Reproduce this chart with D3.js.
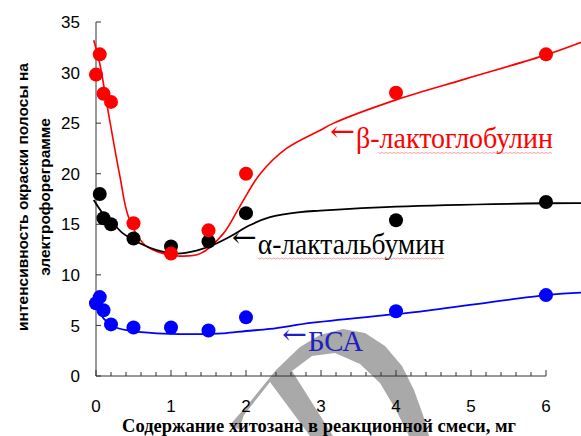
<!DOCTYPE html>
<html>
<head>
<meta charset="utf-8">
<script src="https://cdn.jsdelivr.net/npm/d3@7"></script>
<style>
  body { margin: 0; background: #fff; }
  svg { display: block; }
</style>
</head>
<body>
<div id="chart-area"></div>
<script>
// measured points
const doses = [0, 0.05, 0.1, 0.2, 0.5, 1, 1.5, 2, 4, 6];
const betaLg = [29.8, 31.8, 27.9, 27.1, 15.1, 12.1, 14.4, 20.0, 28.0, 31.8];
const bsa = [7.2, 7.8, 6.5, 5.1, 4.8, 4.8, 4.5, 5.8, 6.4, 8.0];
const alphaDoses = [0.05, 0.1, 0.2, 0.5, 1, 1.5, 2, 4, 6];
const alphaLa = [18.0, 15.6, 15.0, 13.6, 12.8, 13.3, 16.1, 15.4, 17.2];

// trend lines
const betaFitX = [-0.03, 0.05, 0.14, 0.23, 0.32, 0.43, 0.63, 0.81, 1.08, 1.39, 1.70, 1.92, 2.19, 2.54, 2.99, 3.17, 4.0, 4.94, 6.0, 6.47];
const betaFitY = [33.2, 30.9, 27.1, 23.3, 19.7, 15.8, 13.1, 12.3, 11.87, 12.1, 14.1, 16.8, 20.0, 22.5, 24.3, 25.0, 27.3, 29.4, 31.75, 33.0];
const alphaFitX = [-0.03, 0.12, 0.19, 0.36, 0.59, 0.81, 1.08, 1.34, 1.56, 1.79, 2.05, 2.32, 2.72, 2.99, 4.0, 6.0, 6.47];
const alphaFitY = [17.4, 15.8, 15.4, 14.1, 13.1, 12.45, 12.1, 12.4, 12.95, 13.8, 14.9, 15.7, 16.2, 16.35, 16.75, 17.08, 17.1];
const bsaFitX = [0.03, 0.1, 0.23, 0.45, 0.81, 1.25, 1.70, 2.0, 2.32, 2.89, 3.96, 4.32, 6.0, 6.47];
const bsaFitY = [6.6, 5.7, 4.9, 4.48, 4.22, 4.15, 4.22, 4.45, 4.65, 5.27, 6.1, 6.36, 8.0, 8.24];

const xTicks = [0, 1, 2, 3, 4, 5, 6];
const yTicks = [0, 5, 10, 15, 20, 25, 30, 35];

const margin = { left: 96, top: 22 },
  width = 450,
  height = 354;

const svg = d3
  .select("#chart-area")
  .append("svg")
  .attr("width", 581)
  .attr("height", 436);

svg.append("rect").attr("width", 581).attr("height", 436).attr("fill", "#fff");

// grey watermark behind the chart
svg.append("path")
  .attr("d", "M229,426 L250,402 L276,370 L300,347 L320,335 L343,329 L365,333 L385,346 L402,366 L414,390 L423,415 L429,436 L409,436 L396,410 L380,383 L360,364 L335,353 L312,356 L292,371 L333,436 L310,436 L270,382 L244,415 L239,429 Z")
  .attr("fill", "#a9a9a9");

const g = svg.append("g").attr("transform", "translate(" + margin.left + ", " + margin.top + ")");

const x = d3.scaleLinear().domain([0, 6]).range([0, width]);
const y = d3.scaleLinear().domain([0, 35]).range([height, 0]);

//x axis
const xAxis = g.append("g").attr("transform", "translate(0," + height + ")");
xAxis.append("line").attr("x1", 0).attr("x2", width).attr("stroke", "#333");
xAxis.selectAll(".minor")
  .data(d3.range(0, 30.5).map(i => i / 5))
  .enter()
  .append("line")
  .attr("x1", d => x(d))
  .attr("x2", d => x(d))
  .attr("y1", 0)
  .attr("y2", d => (Math.abs(d - Math.round(d)) < 1e-6 ? -6 : -4))
  .attr("stroke", "#333");
xAxis.selectAll("text")
  .data(xTicks)
  .enter()
  .append("text")
  .attr("x", d => x(d))
  .attr("y", 36)
  .attr("text-anchor", "middle")
  .style("font", "17px 'Liberation Sans', Arial, sans-serif")
  .text(d => d);

//y axis
const yAxis = g.append("g");
yAxis.append("line").attr("y1", 0).attr("y2", height).attr("stroke", "#333");
yAxis.selectAll(".tick")
  .data(yTicks)
  .enter()
  .append("line")
  .attr("x1", 0)
  .attr("x2", 5)
  .attr("y1", d => y(d))
  .attr("y2", d => y(d))
  .attr("stroke", "#333");
yAxis.selectAll("text")
  .data(yTicks)
  .enter()
  .append("text")
  .attr("x", -16)
  .attr("y", d => y(d))
  .attr("dy", "0.36em")
  .attr("text-anchor", "end")
  .style("font", "17px 'Liberation Sans', Arial, sans-serif")
  .text(d => d);

//trend lines
const line = d3.line()
  .x(d => x(d[0]))
  .y(d => y(d[1]))
  .curve(d3.curveCatmullRom.alpha(0.5));

const fits = [
  { xs: betaFitX, ys: betaFitY, color: "#ff0000", w: 1.6 },
  { xs: alphaFitX, ys: alphaFitY, color: "#000000", w: 1.8 },
  { xs: bsaFitX, ys: bsaFitY, color: "#0000ff", w: 1.8 }
];
fits.forEach(f => {
  g.append("path")
    .datum(f.xs.map((v, i) => [v, f.ys[i]]))
    .attr("d", line)
    .attr("fill", "none")
    .attr("stroke", f.color)
    .attr("stroke-width", f.w);
});

//markers
const series = [
  { xs: alphaDoses, ys: alphaLa, color: "#000000" },
  { xs: doses, ys: betaLg, color: "#ff0000" },
  { xs: doses, ys: bsa, color: "#0000ff" }
];
series.forEach(s => {
  g.append("g")
    .selectAll("circle")
    .data(s.xs.map((v, i) => [v, s.ys[i]]))
    .enter()
    .append("circle")
    .attr("cx", d => x(d[0]))
    .attr("cy", d => y(d[1]))
    .attr("r", 7)
    .attr("fill", s.color);
});

//curve labels: arrow + name, name squeezed to its width in the picture
const labels = [
  { text: "β-лактоглобулин", at: [3.12, 22.5], color: "#ff0000", len: 197, wavy: 22 },
  { text: "α-лактальбумин", at: [1.81, 12.06], color: "#000000", len: 187, wavy: 0 },
  { text: "БСА", at: [2.48, 2.47], color: "#2020c0", len: 55 }
];
labels.forEach(l => {
  const x0 = x(l.at[0]), y0 = y(l.at[1]);
  g.append("text")
    .attr("x", x0)
    .attr("y", y0 - 7)
    .attr("fill", l.color)
    .attr("textLength", 25)
    .attr("lengthAdjust", "spacingAndGlyphs")
    .style("font", "28px 'DejaVu Serif', serif")
    .text("←");
  g.append("text")
    .attr("x", x0 + 26)
    .attr("y", y0)
    .attr("fill", l.color)
    .attr("textLength", l.len)
    .attr("lengthAdjust", "spacingAndGlyphs")
    .style("font", "29px 'Liberation Serif', 'Times New Roman', serif")
    .text(l.text);
  if (l.wavy !== undefined) {
    // spell-check squiggle under the word
    const base = y0 + margin.top + 4;
    const start = x0 + 26 + l.wavy + margin.left;
    const pts = d3.range(start, x0 + 26 + l.len + margin.left, 2).map((px, i) => [px, base + (i % 2 ? 1 : 0)]);
    svg.append("path")
      .attr("d", d3.line()(pts))
      .attr("fill", "none")
      .attr("stroke", "#f08a8a")
      .attr("stroke-width", 0.8);
  }
});

//axis titles
svg.append("text")
  .attr("x", 319)
  .attr("y", 432)
  .attr("text-anchor", "middle")
  .style("font", "bold 18.5px 'Liberation Serif', 'Times New Roman', serif")
  .text("Содержание хитозана в реакционной смеси, мг");

const yTitle = svg.append("text")
  .attr("transform", "translate(0,197) rotate(-90)")
  .attr("text-anchor", "middle")
  .style("font", "bold 15.5px 'Liberation Sans', Arial, sans-serif");
yTitle.append("tspan").attr("x", 0).attr("y", 28).text("интенсивность окраски полосы на");
yTitle.append("tspan").attr("x", 0).attr("y", 50).text("электрофореграмме");
</script>
</body>
</html>
